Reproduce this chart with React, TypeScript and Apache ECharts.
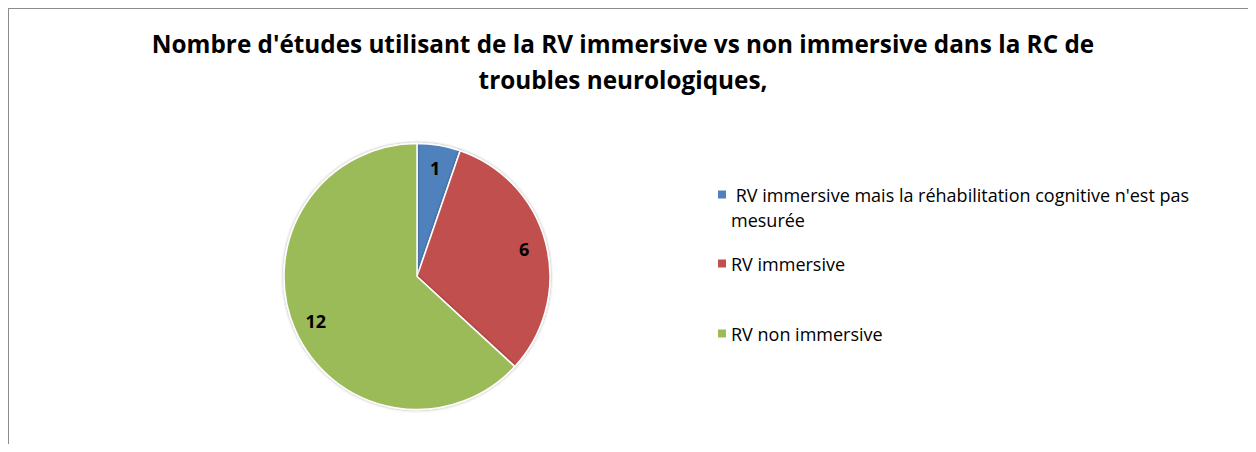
import React, { useEffect, useRef } from "react";
import * as echarts from "echarts";

const titleLines = [
  "Nombre d'études utilisant de la RV immersive vs non immersive dans la RC de",
  "troubles neurologiques,",
];
const categories = [
  " RV immersive mais la réhabilitation cognitive n'est pas\nmesurée",
  "RV immersive",
  "RV non immersive",
];
const values = [1, 6, 12];
const colors = ["#4F81BD", "#C0504D", "#9BBB59"];

export default function App() {
  const ref = useRef<HTMLDivElement>(null);
  useEffect(() => {
    if (!ref.current) return;
    const chart = echarts.init(ref.current, null, { renderer: "svg" });
    const data = categories.map((name, i) => ({
      name,
      value: values[i],
      itemStyle: { color: colors[i] },
    }));
    const L = 25;
    const legendTops = [173, 242, 312];
    const legendBase = {
      orient: "vertical",
      left: 709,
      padding: 0,
      itemWidth: 8,
      itemHeight: 8,
      icon: "rect",
      selectedMode: false,
      itemStyle: { borderWidth: 0 },
      textStyle: {
        fontFamily: "Open Sans",
        fontSize: 18,
        lineHeight: L,
        color: "#000000",
      },
    };
    chart.setOption({
      animation: false,
      backgroundColor: "#ffffff",
      title: {
        text: titleLines.join("\n"),
        left: 614,
        textAlign: "center",
        top: 16,
        padding: 0,
        textStyle: {
          fontFamily: "Open Sans",
          fontWeight: "bold",
          fontSize: 24.3,
          lineHeight: 36,
          color: "#000000",
        },
      },
      legend: categories.map((name, i) =>
        i === 0
          ? {
              ...legendBase,
              top: legendTops[i],
              itemHeight: 8 + L,
              icon: "path://M0 0H8V8H0Z M0 " + (8 + L) + "H0.01V" + (8.01 + L) + "H0Z",
              data: [name],
            }
          : { ...legendBase, top: legendTops[i], data: [name] }
      ),
      series: [
        {
          type: "pie",
          center: [408, 267.5],
          radius: [0, 133],
          startAngle: 90,
          clockwise: true,
          silent: true,
          label: { show: false },
          labelLine: { show: false },
          itemStyle: {
            borderColor: "#ffffff",
            borderWidth: 1.5,
            shadowBlur: 3,
            shadowColor: "rgba(0,0,0,0.35)",
          },
          data,
        },
        {
          type: "pie",
          center: [408, 267.5],
          radius: [82, 133],
          startAngle: 90,
          clockwise: true,
          silent: true,
          legendHoverLink: false,
          itemStyle: { color: "rgba(0,0,0,0)", borderWidth: 0 },
          label: {
            show: true,
            position: "inside",
            formatter: "{c}",
            fontFamily: "Open Sans",
            fontWeight: "bold",
            fontSize: 18,
            color: "#000000",
          },
          labelLine: { show: false },
          data: categories.map((name, i) => ({
            name,
            value: values[i],
            itemStyle: { color: "rgba(0,0,0,0)" },
          })),
        },
      ],
    });
    return () => chart.dispose();
  }, []);
  return (
    <div
      style={{
        width: 1245,
        height: 436,
        boxSizing: "border-box",
        borderTop: "1px solid #8c8c8c",
        borderLeft: "1px solid #8c8c8c",
        borderRight: "1px solid #d8d8d8",
      }}
    >
      <div ref={ref} style={{ width: 1243, height: 435 }} />
    </div>
  );
}
